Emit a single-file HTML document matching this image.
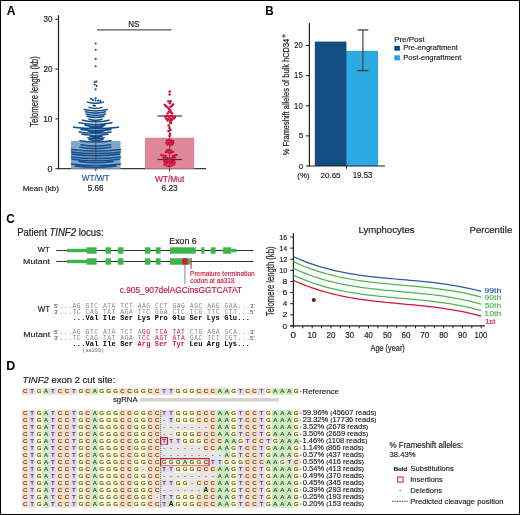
<!DOCTYPE html>
<html><head><meta charset="utf-8"><style>
html,body{margin:0;padding:0;background:#fff;}
.frame{position:relative;width:520px;height:515px;box-sizing:border-box;border:1px solid #000;overflow:hidden;}
svg{position:absolute;left:-1px;top:-1px;will-change:transform;}
svg text{font-family:"Liberation Sans",sans-serif;}
svg text.m{font-family:"Liberation Mono",monospace;}
svg text.b{font-size:6.1px;fill:#3c3c3c;text-anchor:middle;stroke:#3c3c3c;stroke-width:0.15px;}
svg text.bb{font-size:6.6px;fill:#111;text-anchor:middle;font-weight:bold;}
</style></head><body><div class="frame"><svg width="520" height="515" viewBox="0 0 520 515">
<text x="6.70" y="14.80" font-size="11.88" fill="#000" textLength="8.73" lengthAdjust="spacingAndGlyphs"><tspan font-weight="bold">A</tspan></text>
<line x1="58.5" y1="15.2" x2="58.5" y2="169.29999999999998" stroke="#231f20" stroke-width="1.2"/>
<line x1="57.9" y1="168.7" x2="206" y2="168.7" stroke="#3a3a3a" stroke-width="1.3"/>
<line x1="55.3" y1="118.89999999999999" x2="58.5" y2="118.89999999999999" stroke="#231f20" stroke-width="1"/>
<text x="43.18" y="121.80" font-size="8.70" fill="#231f20" stroke="#231f20" stroke-width="0.191" textLength="9.23" lengthAdjust="spacingAndGlyphs">10</text>
<line x1="55.3" y1="69.1" x2="58.5" y2="69.1" stroke="#231f20" stroke-width="1"/>
<text x="43.40" y="72.00" font-size="8.70" fill="#231f20" stroke="#231f20" stroke-width="0.191" textLength="9.01" lengthAdjust="spacingAndGlyphs">20</text>
<line x1="55.3" y1="19.30000000000001" x2="58.5" y2="19.30000000000001" stroke="#231f20" stroke-width="1"/>
<text x="43.48" y="22.20" font-size="8.70" fill="#231f20" stroke="#231f20" stroke-width="0.191" textLength="8.92" lengthAdjust="spacingAndGlyphs">30</text>
<line x1="55.3" y1="168.7" x2="58.5" y2="168.7" stroke="#231f20" stroke-width="1"/>
<text x="47.44" y="171.60" font-size="8.84" fill="#231f20" stroke="#231f20" stroke-width="0.194" textLength="4.98" lengthAdjust="spacingAndGlyphs">0</text>
<text x="-126.96" y="0.00" font-size="10.69" fill="#231f20" stroke="#231f20" stroke-width="0.235" textLength="70.72" lengthAdjust="spacingAndGlyphs" transform="translate(38.10,0) rotate(-90)">Telomere length (kb)</text>
<rect x="71.00" y="140.90" width="49.50" height="27.80" fill="#84a6ca"/>
<rect x="145.00" y="137.67" width="49.20" height="31.03" fill="#df8799"/>
<line x1="97" y1="29.85" x2="171.5" y2="29.85" stroke="#555" stroke-width="1.3"/>
<text x="128.26" y="27.00" font-size="8.41" fill="#231f20" stroke="#231f20" stroke-width="0.185" textLength="11.14" lengthAdjust="spacingAndGlyphs">NS</text>
<line x1="95.8" y1="168.7" x2="95.8" y2="171.2" stroke="#231f20" stroke-width="0.9"/>
<line x1="169.6" y1="168.7" x2="169.6" y2="171.2" stroke="#231f20" stroke-width="0.9"/>
<text x="81.86" y="181.20" font-size="8.70" fill="#1e5b96" stroke="#1e5b96" stroke-width="0.191" textLength="27.52" lengthAdjust="spacingAndGlyphs">WT/WT</text>
<text x="154.96" y="181.50" font-size="8.26" fill="#d0173e" stroke="#d0173e" stroke-width="0.182" textLength="29.32" lengthAdjust="spacingAndGlyphs">WT/Mut</text>
<text x="22.66" y="190.70" font-size="8.12" fill="#231f20" stroke="#231f20" stroke-width="0.179" textLength="36.24" lengthAdjust="spacingAndGlyphs">Mean (kb)</text>
<text x="87.78" y="190.80" font-size="8.41" fill="#231f20" stroke="#231f20" stroke-width="0.185" textLength="15.65" lengthAdjust="spacingAndGlyphs">5.66</text>
<text x="161.48" y="190.80" font-size="8.41" fill="#231f20" stroke="#231f20" stroke-width="0.185" textLength="16.16" lengthAdjust="spacingAndGlyphs">6.23</text>
<path d="M87.5,102.12 Q95.5,104.44 103.5,102.12 M89.0,107.37 Q95.5,109.48 102.0,107.37 M84.2,109.60 Q95.8,112.41 107.3,109.60 M85.5,111.85 Q95.5,114.45 105.5,111.85 M86.0,113.96 Q95.8,116.52 105.5,113.96 M87.0,116.20 Q95.5,118.59 104.0,116.20 M82.5,120.14 Q95.8,123.19 109.0,120.14 M79.0,122.72 Q95.5,126.23 112.0,122.72 M85.0,125.20 Q95.0,127.20 105.0,125.20 M73.5,127.15 Q96.0,130.15 118.5,127.15 M81.0,129.50 Q96.0,131.90 111.0,129.50 M79.0,132.08 Q95.0,134.56 111.0,132.08 M82.0,134.34 Q95.0,136.58 108.0,134.34 M88.0,137.64 Q96.0,139.48 104.0,137.64 M80.0,140.69 Q95.5,143.13 111.0,140.69 M81.0,144.81 Q95.8,147.19 110.5,144.81 M80.0,147.29 Q95.5,149.73 111.0,147.29 M71.5,149.51 Q96.0,152.67 120.5,149.51 M71.5,151.91 Q96.0,155.07 120.5,151.91 M72.0,154.12 Q95.8,157.22 119.5,154.12 M71.5,157.01 Q96.0,160.17 120.5,157.01 M72.0,159.22 Q95.8,162.32 119.5,159.22 M79.0,161.56 Q96.0,164.12 113.0,161.56 M71.5,164.01 Q96.0,167.17 120.5,164.01 M75.0,166.09 Q95.5,168.93 116.0,166.09 M89.0,119.17 Q95.5,121.28 102.0,119.17 M89.0,126.46 Q96.0,128.22 103.0,126.46 M88.0,131.04 Q96.0,132.88 104.0,131.04 M90.0,136.28 Q96.0,137.96 102.0,136.28 M89.0,139.46 Q96.0,141.22 103.0,139.46" fill="none" stroke="#154f8b" stroke-width="1.55" stroke-linecap="round"/>
<circle cx="95.7" cy="43.5" r="1.05" fill="#154f8b"/>
<circle cx="95.7" cy="49.7" r="1.05" fill="#154f8b"/>
<circle cx="95.7" cy="58.9" r="1.05" fill="#154f8b"/>
<circle cx="95.7" cy="66.2" r="1.05" fill="#154f8b"/>
<circle cx="94.7" cy="81.9" r="1.05" fill="#154f8b"/>
<circle cx="96.6" cy="81.5" r="1.05" fill="#154f8b"/>
<circle cx="94.7" cy="84.5" r="1.05" fill="#154f8b"/>
<circle cx="96.6" cy="85.9" r="1.05" fill="#154f8b"/>
<circle cx="95.6" cy="89.4" r="1.05" fill="#154f8b"/>
<circle cx="91.2" cy="98.9" r="1.05" fill="#154f8b"/>
<circle cx="95.5" cy="98.4" r="1.05" fill="#154f8b"/>
<circle cx="93" cy="100.1" r="1.05" fill="#154f8b"/>
<circle cx="95.5" cy="100.5" r="1.05" fill="#154f8b"/>
<circle cx="98" cy="100.6" r="1.05" fill="#154f8b"/>
<circle cx="100.3" cy="100.9" r="1.05" fill="#154f8b"/>
<circle cx="95.0" cy="105.8" r="1.05" fill="#154f8b"/>
<circle cx="93.6" cy="105.5" r="1.05" fill="#154f8b"/>
<line x1="95.8" y1="120.4" x2="95.8" y2="160.7" stroke="#2b2b2b" stroke-width="0.6"/>
<line x1="169.7" y1="116" x2="169.7" y2="168.5" stroke="#333" stroke-width="0.7"/>
<line x1="157.4" y1="116" x2="181.9" y2="116" stroke="#3a3a3a" stroke-width="1.2"/>
<line x1="157.4" y1="159.5" x2="181.9" y2="159.5" stroke="#3a3a3a" stroke-width="1.2"/>
<circle cx="169.65" cy="91.5" r="1.25" fill="#d0103a"/>
<circle cx="169.65" cy="94.4" r="1.25" fill="#d0103a"/>
<circle cx="168.3" cy="101.3" r="1.25" fill="#d0103a"/>
<circle cx="170.5" cy="101.3" r="1.25" fill="#d0103a"/>
<circle cx="169.8" cy="103.3" r="1.25" fill="#d0103a"/>
<circle cx="164.8" cy="105.1" r="1.25" fill="#d0103a"/>
<circle cx="166.2" cy="106.2" r="1.25" fill="#d0103a"/>
<circle cx="167.5" cy="107.5" r="1.25" fill="#d0103a"/>
<circle cx="173.1" cy="104.6" r="1.25" fill="#d0103a"/>
<circle cx="171.8" cy="105.8" r="1.25" fill="#d0103a"/>
<circle cx="170.5" cy="107" r="1.25" fill="#d0103a"/>
<circle cx="169" cy="109" r="1.25" fill="#d0103a"/>
<circle cx="170.5" cy="110.5" r="1.25" fill="#d0103a"/>
<circle cx="168.8" cy="111.8" r="1.25" fill="#d0103a"/>
<circle cx="167.6" cy="113.4" r="1.25" fill="#d0103a"/>
<circle cx="172.2" cy="113.6" r="1.25" fill="#d0103a"/>
<circle cx="171" cy="112.6" r="1.25" fill="#d0103a"/>
<circle cx="165" cy="116.5" r="1.25" fill="#d0103a"/>
<circle cx="167" cy="116" r="1.25" fill="#d0103a"/>
<circle cx="169" cy="116.5" r="1.25" fill="#d0103a"/>
<circle cx="171" cy="116" r="1.25" fill="#d0103a"/>
<circle cx="173" cy="116.5" r="1.25" fill="#d0103a"/>
<circle cx="175" cy="117" r="1.25" fill="#d0103a"/>
<circle cx="166" cy="118.5" r="1.25" fill="#d0103a"/>
<circle cx="168" cy="119" r="1.25" fill="#d0103a"/>
<circle cx="170" cy="118.5" r="1.25" fill="#d0103a"/>
<circle cx="172" cy="119" r="1.25" fill="#d0103a"/>
<circle cx="174" cy="118.5" r="1.25" fill="#d0103a"/>
<circle cx="167.5" cy="120.5" r="1.25" fill="#d0103a"/>
<circle cx="171.5" cy="120.5" r="1.25" fill="#d0103a"/>
<circle cx="170" cy="121.5" r="1.25" fill="#d0103a"/>
<circle cx="171" cy="123" r="1.25" fill="#d0103a"/>
<circle cx="168.5" cy="125.5" r="1.25" fill="#d0103a"/>
<circle cx="169.5" cy="128" r="1.25" fill="#d0103a"/>
<circle cx="170.5" cy="130" r="1.25" fill="#d0103a"/>
<circle cx="168.5" cy="131" r="1.25" fill="#d0103a"/>
<circle cx="170" cy="134" r="1.25" fill="#d0103a"/>
<circle cx="169.5" cy="136" r="1.25" fill="#d0103a"/>
<circle cx="167" cy="140.5" r="1.25" fill="#d0103a"/>
<circle cx="169" cy="140" r="1.25" fill="#d0103a"/>
<circle cx="171" cy="140.5" r="1.25" fill="#d0103a"/>
<circle cx="173" cy="141" r="1.25" fill="#d0103a"/>
<circle cx="166.5" cy="142.5" r="1.25" fill="#d0103a"/>
<circle cx="168.5" cy="143" r="1.25" fill="#d0103a"/>
<circle cx="171" cy="142.5" r="1.25" fill="#d0103a"/>
<circle cx="173" cy="143" r="1.25" fill="#d0103a"/>
<circle cx="167.5" cy="144.5" r="1.25" fill="#d0103a"/>
<circle cx="170" cy="145" r="1.25" fill="#d0103a"/>
<circle cx="172" cy="144.5" r="1.25" fill="#d0103a"/>
<circle cx="167" cy="150.5" r="1.25" fill="#d0103a"/>
<circle cx="169" cy="150" r="1.25" fill="#d0103a"/>
<circle cx="171" cy="150.5" r="1.25" fill="#d0103a"/>
<circle cx="166" cy="152" r="1.25" fill="#d0103a"/>
<circle cx="168.5" cy="152.5" r="1.25" fill="#d0103a"/>
<circle cx="171" cy="152.5" r="1.25" fill="#d0103a"/>
<circle cx="173" cy="152" r="1.25" fill="#d0103a"/>
<circle cx="161.5" cy="155" r="1.25" fill="#d0103a"/>
<circle cx="163.5" cy="155.5" r="1.25" fill="#d0103a"/>
<circle cx="165.5" cy="156" r="1.25" fill="#d0103a"/>
<circle cx="173" cy="156" r="1.25" fill="#d0103a"/>
<circle cx="175" cy="155.5" r="1.25" fill="#d0103a"/>
<circle cx="176.5" cy="155" r="1.25" fill="#d0103a"/>
<circle cx="163.5" cy="157.5" r="1.25" fill="#d0103a"/>
<circle cx="165.5" cy="158" r="1.25" fill="#d0103a"/>
<circle cx="167.5" cy="158" r="1.25" fill="#d0103a"/>
<circle cx="170" cy="158.5" r="1.25" fill="#d0103a"/>
<circle cx="172.5" cy="158" r="1.25" fill="#d0103a"/>
<circle cx="174.5" cy="157.5" r="1.25" fill="#d0103a"/>
<circle cx="164" cy="160.5" r="1.25" fill="#d0103a"/>
<circle cx="166" cy="161" r="1.25" fill="#d0103a"/>
<circle cx="168" cy="161.5" r="1.25" fill="#d0103a"/>
<circle cx="170" cy="161.5" r="1.25" fill="#d0103a"/>
<circle cx="172" cy="161" r="1.25" fill="#d0103a"/>
<circle cx="174" cy="160.5" r="1.25" fill="#d0103a"/>
<circle cx="165" cy="162.5" r="1.25" fill="#d0103a"/>
<circle cx="167" cy="163" r="1.25" fill="#d0103a"/>
<circle cx="169.5" cy="163.5" r="1.25" fill="#d0103a"/>
<circle cx="172" cy="163" r="1.25" fill="#d0103a"/>
<circle cx="174.5" cy="162.5" r="1.25" fill="#d0103a"/>
<circle cx="164.5" cy="164.5" r="1.25" fill="#d0103a"/>
<circle cx="166.5" cy="165.5" r="1.25" fill="#d0103a"/>
<circle cx="169" cy="166" r="1.25" fill="#d0103a"/>
<circle cx="171.5" cy="165.5" r="1.25" fill="#d0103a"/>
<circle cx="174" cy="164.5" r="1.25" fill="#d0103a"/>
<text x="265.24" y="15.00" font-size="12.17" fill="#000" textLength="8.41" lengthAdjust="spacingAndGlyphs"><tspan font-weight="bold">B</tspan></text>
<rect x="346.00" y="50.80" width="32.10" height="115.20" fill="#2eaae3"/>
<rect x="314.80" y="41.58" width="31.60" height="124.42" fill="#124f80"/>
<line x1="309.4" y1="23" x2="309.4" y2="166.6" stroke="#231f20" stroke-width="1.2"/>
<line x1="308.79999999999995" y1="166.0" x2="385" y2="166.0" stroke="#231f20" stroke-width="1.2"/>
<line x1="346.5" y1="166.0" x2="346.5" y2="168.8" stroke="#231f20" stroke-width="1"/>
<line x1="305.9" y1="166.0" x2="309.4" y2="166.0" stroke="#231f20" stroke-width="1"/>
<text x="298.68" y="168.60" font-size="7.25" fill="#231f20" stroke="#231f20" stroke-width="0.159" textLength="4.52" lengthAdjust="spacingAndGlyphs">0</text>
<line x1="305.9" y1="135.875" x2="309.4" y2="135.875" stroke="#231f20" stroke-width="1"/>
<text x="298.67" y="138.47" font-size="7.25" fill="#231f20" stroke="#231f20" stroke-width="0.159" textLength="4.57" lengthAdjust="spacingAndGlyphs">5</text>
<line x1="305.9" y1="105.75" x2="309.4" y2="105.75" stroke="#231f20" stroke-width="1"/>
<text x="294.12" y="108.55" font-size="8.70" fill="#231f20" stroke="#231f20" stroke-width="0.191" textLength="8.57" lengthAdjust="spacingAndGlyphs">10</text>
<line x1="305.9" y1="75.625" x2="309.4" y2="75.625" stroke="#231f20" stroke-width="1"/>
<text x="294.12" y="78.42" font-size="8.70" fill="#231f20" stroke="#231f20" stroke-width="0.191" textLength="8.61" lengthAdjust="spacingAndGlyphs">15</text>
<line x1="305.9" y1="45.5" x2="309.4" y2="45.5" stroke="#231f20" stroke-width="1"/>
<text x="294.32" y="48.30" font-size="8.70" fill="#231f20" stroke="#231f20" stroke-width="0.191" textLength="8.36" lengthAdjust="spacingAndGlyphs">20</text>
<line x1="362.9" y1="30" x2="362.9" y2="70.6" stroke="#444" stroke-width="1.2"/>
<line x1="357.5" y1="30" x2="368.3" y2="30" stroke="#444" stroke-width="1.3"/>
<line x1="357.5" y1="70.6" x2="368.3" y2="70.6" stroke="#333" stroke-width="1.3"/>
<text x="-155.26" y="0.00" font-size="9.44" fill="#231f20" stroke="#231f20" stroke-width="0.208" textLength="116.48" lengthAdjust="spacingAndGlyphs" transform="translate(288.90,0) rotate(-90)">% Frameshift alleles  of bulk hCD34</text>
<line x1="281.7" y1="36.0" x2="285.9" y2="36.0" stroke="#231f20" stroke-width="0.75"/>
<line x1="283.8" y1="33.9" x2="283.8" y2="38.1" stroke="#231f20" stroke-width="0.75"/>
<text x="297.33" y="178.30" font-size="7.70" fill="#231f20" stroke="#231f20" stroke-width="0.169" textLength="12.18" lengthAdjust="spacingAndGlyphs">(%)</text>
<text x="320.50" y="178.10" font-size="8.12" fill="#231f20" stroke="#231f20" stroke-width="0.179" textLength="20.04" lengthAdjust="spacingAndGlyphs">20.65</text>
<text x="352.71" y="178.10" font-size="8.41" fill="#231f20" stroke="#231f20" stroke-width="0.185" textLength="19.73" lengthAdjust="spacingAndGlyphs">19.53</text>
<text x="394.16" y="41.50" font-size="7.54" fill="#231f20" stroke="#231f20" stroke-width="0.166" textLength="30.52" lengthAdjust="spacingAndGlyphs">Pre/Post</text>
<rect x="394.30" y="45.90" width="5.60" height="4.80" fill="#0e4a80"/>
<text x="403.30" y="50.40" font-size="7.97" fill="#231f20" stroke="#231f20" stroke-width="0.175" textLength="54.45" lengthAdjust="spacingAndGlyphs">Pre-engraftment</text>
<rect x="394.30" y="55.30" width="5.60" height="5.00" fill="#29a3e0"/>
<text x="403.29" y="59.80" font-size="7.25" fill="#231f20" stroke="#231f20" stroke-width="0.159" textLength="58.05" lengthAdjust="spacingAndGlyphs">Post-engraftment</text>
<text x="6.33" y="223.00" font-size="12.03" fill="#000" textLength="8.49" lengthAdjust="spacingAndGlyphs"><tspan font-weight="bold">C</tspan></text>
<text x="17.14" y="235.80" font-size="10.00" fill="#231f20" stroke="#231f20" stroke-width="0.220" textLength="86.46" lengthAdjust="spacingAndGlyphs">Patient <tspan font-style="italic">TINF2</tspan> locus:</text>
<text x="37.66" y="252.00" font-size="7.83" fill="#231f20" stroke="#231f20" stroke-width="0.172" textLength="12.09" lengthAdjust="spacingAndGlyphs">WT</text>
<text x="23.09" y="263.70" font-size="7.97" fill="#231f20" stroke="#231f20" stroke-width="0.175" textLength="26.97" lengthAdjust="spacingAndGlyphs">Mutant</text>
<line x1="56.3" y1="250.5" x2="253.4" y2="250.5" stroke="#333" stroke-width="1"/>
<rect x="67.20" y="248.80" width="19.50" height="3.40" fill="#3ab54a"/>
<rect x="86.50" y="247.30" width="10.20" height="6.40" fill="#3ab54a"/>
<rect x="105.60" y="247.30" width="5.40" height="6.40" fill="#3ab54a"/>
<rect x="118.00" y="247.30" width="5.40" height="6.40" fill="#3ab54a"/>
<rect x="145.00" y="247.30" width="5.40" height="6.40" fill="#3ab54a"/>
<rect x="155.80" y="247.30" width="4.90" height="6.40" fill="#3ab54a"/>
<rect x="170.00" y="247.30" width="25.80" height="6.40" fill="#3ab54a"/>
<rect x="201.20" y="247.30" width="3.30" height="6.40" fill="#3ab54a"/>
<rect x="210.70" y="247.30" width="4.90" height="6.40" fill="#3ab54a"/>
<rect x="223.10" y="247.30" width="8.10" height="6.40" fill="#3ab54a"/>
<rect x="231.20" y="248.80" width="5.40" height="3.40" fill="#3ab54a"/>
<line x1="56.3" y1="261.5" x2="253.4" y2="261.5" stroke="#333" stroke-width="1"/>
<rect x="67.20" y="259.80" width="19.50" height="3.40" fill="#3ab54a"/>
<rect x="86.50" y="258.30" width="10.20" height="6.40" fill="#3ab54a"/>
<rect x="105.60" y="258.30" width="5.40" height="6.40" fill="#3ab54a"/>
<rect x="118.00" y="258.30" width="5.40" height="6.40" fill="#3ab54a"/>
<rect x="145.00" y="258.30" width="5.40" height="6.40" fill="#3ab54a"/>
<rect x="155.80" y="258.30" width="4.90" height="6.40" fill="#3ab54a"/>
<rect x="170.00" y="258.30" width="20.60" height="6.40" fill="#3ab54a"/>
<rect x="182.30" y="258.30" width="5.20" height="6.40" fill="#d2173f"/>
<text x="169.30" y="243.50" font-size="8.84" fill="#231f20" stroke="#231f20" stroke-width="0.194" textLength="27.28" lengthAdjust="spacingAndGlyphs">Exon 6</text>
<line x1="191.1" y1="258" x2="191.1" y2="268.8" stroke="#d0173e" stroke-width="1"/>
<line x1="184.9" y1="265" x2="184.9" y2="284.2" stroke="#888" stroke-width="1"/>
<text x="190.08" y="275.80" font-size="6.67" fill="#d0173e" stroke="#d0173e" stroke-width="0.147" textLength="64.57" lengthAdjust="spacingAndGlyphs">Premature termination</text>
<text x="190.34" y="283.00" font-size="6.30" fill="#d0173e" stroke="#d0173e" stroke-width="0.139" textLength="44.11" lengthAdjust="spacingAndGlyphs">codon at aa318</text>
<text x="119.67" y="293.00" font-size="8.59" fill="#d0173e" stroke="#d0173e" stroke-width="0.189" textLength="122.32" lengthAdjust="spacingAndGlyphs">c.905_907delAGCinsGGTCATAT</text>
<text x="37.66" y="312.00" font-size="8.41" fill="#231f20" stroke="#231f20" stroke-width="0.185" textLength="12.40" lengthAdjust="spacingAndGlyphs">WT</text>
<text x="23.19" y="336.70" font-size="8.12" fill="#231f20" stroke="#231f20" stroke-width="0.179" textLength="26.97" lengthAdjust="spacingAndGlyphs">Mutant</text>
<text x="53.9" y="308.10" font-size="6.1" fill="#444">5'</text>
<text x="53.9" y="313.70" font-size="6.1" fill="#444">3'</text>
<text class="m" x="59.5" y="308.10" font-size="6.3" fill="#88898b" textLength="190.52" lengthAdjust="spacing" xml:space="preserve">...AG GTC ATA TCT AAG CCT GAG AGC AAG GAA...</text>
<text class="m" x="59.5" y="313.70" font-size="6.3" fill="#88898b" textLength="190.52" lengthAdjust="spacing" xml:space="preserve">...TC CAG TAT AGA TTC GGA CTC TCG TTC CTT...</text>
<text x="250.0" y="308.10" font-size="6.1" fill="#444">3'</text>
<text x="250.0" y="313.70" font-size="6.1" fill="#444">5'</text>
<text class="m" x="59.5" y="319.90" font-size="7.0" fill="#000" font-weight="bold" textLength="190.52" lengthAdjust="spacing" xml:space="preserve">   ...Val Ile Ser Lys Pro Glu Ser Lys Glu...</text>
<text x="53.9" y="333.90" font-size="6.1" fill="#444">5'</text>
<text x="53.9" y="339.50" font-size="6.1" fill="#444">3'</text>
<text class="m" x="59.5" y="333.90" font-size="6.3" fill="#88898b" textLength="190.52" lengthAdjust="spacing" xml:space="preserve">...AG GTC ATA TCT A<tspan fill="#d0173e">GG TCA TAT</tspan> CTG AGA GCA...</text>
<text class="m" x="59.5" y="339.50" font-size="6.3" fill="#88898b" textLength="190.52" lengthAdjust="spacing" xml:space="preserve">...TC CAG TAT AGA T<tspan fill="#d0173e">CC AGT ATA</tspan> GAC TCT CGT...</text>
<text x="250.0" y="333.90" font-size="6.1" fill="#444">3'</text>
<text x="250.0" y="339.50" font-size="6.1" fill="#444">5'</text>
<text class="m" x="59.5" y="346.40" font-size="7.0" fill="#000" font-weight="bold" textLength="190.52" lengthAdjust="spacing" xml:space="preserve">   ...Val Ile Ser <tspan fill="#d0173e">Arg Ser Tyr</tspan> Leu Arg Lys...</text>
<text class="m" x="82.3" y="351.5" font-size="6.0" fill="#6d6e71" textLength="21.9" lengthAdjust="spacingAndGlyphs">(aa299)</text>
<line x1="293.4" y1="233.1" x2="293.4" y2="326.5" stroke="#231f20" stroke-width="1.2"/>
<line x1="290.3" y1="325.9" x2="485.0" y2="325.9" stroke="#231f20" stroke-width="1.2"/>
<line x1="290.2" y1="325.9" x2="293.4" y2="325.9" stroke="#231f20" stroke-width="1"/>
<text x="282.56" y="328.50" font-size="7.68" fill="#231f20" stroke="#231f20" stroke-width="0.169" textLength="4.75" lengthAdjust="spacingAndGlyphs">0</text>
<line x1="290.2" y1="314.78749999999997" x2="293.4" y2="314.78749999999997" stroke="#231f20" stroke-width="1"/>
<text x="282.45" y="317.39" font-size="7.68" fill="#231f20" stroke="#231f20" stroke-width="0.169" textLength="5.01" lengthAdjust="spacingAndGlyphs">2</text>
<line x1="290.2" y1="303.67499999999995" x2="293.4" y2="303.67499999999995" stroke="#231f20" stroke-width="1"/>
<text x="282.74" y="306.27" font-size="7.68" fill="#231f20" stroke="#231f20" stroke-width="0.169" textLength="4.52" lengthAdjust="spacingAndGlyphs">4</text>
<line x1="290.2" y1="292.5625" x2="293.4" y2="292.5625" stroke="#231f20" stroke-width="1"/>
<text x="282.46" y="295.16" font-size="7.68" fill="#231f20" stroke="#231f20" stroke-width="0.169" textLength="4.90" lengthAdjust="spacingAndGlyphs">6</text>
<line x1="290.2" y1="281.45" x2="293.4" y2="281.45" stroke="#231f20" stroke-width="1"/>
<text x="282.51" y="284.05" font-size="7.68" fill="#231f20" stroke="#231f20" stroke-width="0.169" textLength="4.85" lengthAdjust="spacingAndGlyphs">8</text>
<line x1="290.2" y1="270.3375" x2="293.4" y2="270.3375" stroke="#231f20" stroke-width="1"/>
<text x="279.16" y="272.94" font-size="7.68" fill="#231f20" stroke="#231f20" stroke-width="0.169" textLength="8.01" lengthAdjust="spacingAndGlyphs">10</text>
<line x1="290.2" y1="259.225" x2="293.4" y2="259.225" stroke="#231f20" stroke-width="1"/>
<text x="279.15" y="261.83" font-size="7.68" fill="#231f20" stroke="#231f20" stroke-width="0.169" textLength="8.13" lengthAdjust="spacingAndGlyphs">12</text>
<line x1="290.2" y1="248.1125" x2="293.4" y2="248.1125" stroke="#231f20" stroke-width="1"/>
<text x="279.16" y="250.71" font-size="7.68" fill="#231f20" stroke="#231f20" stroke-width="0.169" textLength="7.97" lengthAdjust="spacingAndGlyphs">14</text>
<line x1="290.2" y1="237.0" x2="293.4" y2="237.0" stroke="#231f20" stroke-width="1"/>
<text x="279.16" y="239.60" font-size="7.68" fill="#231f20" stroke="#231f20" stroke-width="0.169" textLength="8.05" lengthAdjust="spacingAndGlyphs">16</text>
<line x1="293.4" y1="325.9" x2="293.4" y2="328.29999999999995" stroke="#231f20" stroke-width="1"/>
<text x="290.60" y="338.30" font-size="8.55" fill="#231f20" stroke="#231f20" stroke-width="0.188" textLength="5.56" lengthAdjust="spacingAndGlyphs">0</text>
<line x1="302.78999999999996" y1="325.9" x2="302.78999999999996" y2="328.29999999999995" stroke="#231f20" stroke-width="1"/>
<line x1="312.17999999999995" y1="325.9" x2="312.17999999999995" y2="328.29999999999995" stroke="#231f20" stroke-width="1"/>
<text x="307.46" y="338.30" font-size="8.55" fill="#231f20" stroke="#231f20" stroke-width="0.188" textLength="9.12" lengthAdjust="spacingAndGlyphs">10</text>
<line x1="321.57" y1="325.9" x2="321.57" y2="328.29999999999995" stroke="#231f20" stroke-width="1"/>
<line x1="330.96" y1="325.9" x2="330.96" y2="328.29999999999995" stroke="#231f20" stroke-width="1"/>
<text x="326.46" y="338.30" font-size="8.55" fill="#231f20" stroke="#231f20" stroke-width="0.188" textLength="8.90" lengthAdjust="spacingAndGlyphs">20</text>
<line x1="340.34999999999997" y1="325.9" x2="340.34999999999997" y2="328.29999999999995" stroke="#231f20" stroke-width="1"/>
<line x1="349.74" y1="325.9" x2="349.74" y2="328.29999999999995" stroke="#231f20" stroke-width="1"/>
<text x="345.32" y="338.30" font-size="8.55" fill="#231f20" stroke="#231f20" stroke-width="0.188" textLength="8.81" lengthAdjust="spacingAndGlyphs">30</text>
<line x1="359.13" y1="325.9" x2="359.13" y2="328.29999999999995" stroke="#231f20" stroke-width="1"/>
<line x1="368.52" y1="325.9" x2="368.52" y2="328.29999999999995" stroke="#231f20" stroke-width="1"/>
<text x="364.26" y="338.30" font-size="8.55" fill="#231f20" stroke="#231f20" stroke-width="0.188" textLength="8.65" lengthAdjust="spacingAndGlyphs">40</text>
<line x1="377.90999999999997" y1="325.9" x2="377.90999999999997" y2="328.29999999999995" stroke="#231f20" stroke-width="1"/>
<line x1="387.29999999999995" y1="325.9" x2="387.29999999999995" y2="328.29999999999995" stroke="#231f20" stroke-width="1"/>
<text x="382.88" y="338.30" font-size="8.55" fill="#231f20" stroke="#231f20" stroke-width="0.188" textLength="8.81" lengthAdjust="spacingAndGlyphs">50</text>
<line x1="396.69" y1="325.9" x2="396.69" y2="328.29999999999995" stroke="#231f20" stroke-width="1"/>
<line x1="406.08" y1="325.9" x2="406.08" y2="328.29999999999995" stroke="#231f20" stroke-width="1"/>
<text x="401.58" y="338.30" font-size="8.55" fill="#231f20" stroke="#231f20" stroke-width="0.188" textLength="8.90" lengthAdjust="spacingAndGlyphs">60</text>
<line x1="415.46999999999997" y1="325.9" x2="415.46999999999997" y2="328.29999999999995" stroke="#231f20" stroke-width="1"/>
<line x1="424.86" y1="325.9" x2="424.86" y2="328.29999999999995" stroke="#231f20" stroke-width="1"/>
<text x="420.36" y="338.30" font-size="8.55" fill="#231f20" stroke="#231f20" stroke-width="0.188" textLength="8.90" lengthAdjust="spacingAndGlyphs">70</text>
<line x1="434.25" y1="325.9" x2="434.25" y2="328.29999999999995" stroke="#231f20" stroke-width="1"/>
<line x1="443.64" y1="325.9" x2="443.64" y2="328.29999999999995" stroke="#231f20" stroke-width="1"/>
<text x="439.18" y="338.30" font-size="8.55" fill="#231f20" stroke="#231f20" stroke-width="0.188" textLength="8.86" lengthAdjust="spacingAndGlyphs">80</text>
<line x1="453.03" y1="325.9" x2="453.03" y2="328.29999999999995" stroke="#231f20" stroke-width="1"/>
<line x1="462.41999999999996" y1="325.9" x2="462.41999999999996" y2="328.29999999999995" stroke="#231f20" stroke-width="1"/>
<text x="457.96" y="338.30" font-size="8.55" fill="#231f20" stroke="#231f20" stroke-width="0.188" textLength="8.86" lengthAdjust="spacingAndGlyphs">90</text>
<line x1="471.81" y1="325.9" x2="471.81" y2="328.29999999999995" stroke="#231f20" stroke-width="1"/>
<line x1="481.2" y1="325.9" x2="481.2" y2="328.29999999999995" stroke="#231f20" stroke-width="1"/>
<text x="474.52" y="338.30" font-size="8.55" fill="#231f20" stroke="#231f20" stroke-width="0.188" textLength="12.88" lengthAdjust="spacingAndGlyphs">100</text>
<text x="370.50" y="351.00" font-size="8.84" fill="#231f20" stroke="#231f20" stroke-width="0.194" textLength="34.27" lengthAdjust="spacingAndGlyphs">Age (year)</text>
<text x="-316.25" y="0.00" font-size="10.14" fill="#231f20" stroke="#231f20" stroke-width="0.223" textLength="69.72" lengthAdjust="spacingAndGlyphs" transform="translate(273.60,0) rotate(-90)">Telomere length (kb)</text>
<text x="358.43" y="232.50" font-size="8.99" fill="#231f20" stroke="#231f20" stroke-width="0.198" textLength="56.20" lengthAdjust="spacingAndGlyphs">Lymphocytes</text>
<text x="469.53" y="232.60" font-size="9.28" fill="#231f20" stroke="#231f20" stroke-width="0.204" textLength="42.72" lengthAdjust="spacingAndGlyphs">Percentile</text>
<path d="M293.40,256.61 L297.16,258.29 L300.91,259.89 L304.67,261.39 L308.42,262.81 L312.18,264.14 L315.94,265.39 L319.69,266.57 L323.45,267.67 L327.20,268.70 L330.96,269.66 L334.72,270.56 L338.47,271.40 L342.23,272.18 L345.98,272.91 L349.74,273.59 L353.50,274.22 L357.25,274.81 L361.01,275.35 L364.76,275.86 L368.52,276.34 L372.28,276.78 L376.03,277.20 L379.79,277.59 L383.54,277.97 L387.30,278.32 L391.06,278.67 L394.81,279.00 L398.57,279.32 L402.32,279.65 L406.08,279.97 L409.84,280.29 L413.59,280.62 L417.35,280.96 L421.10,281.32 L424.86,281.69 L428.62,282.08 L432.37,282.49 L436.13,282.93 L439.88,283.40 L443.64,283.90 L447.40,284.44 L451.15,285.02 L454.91,285.64 L458.66,286.30 L462.42,287.02 L466.18,287.79 L469.93,288.62 L473.69,289.51 L477.44,290.46 L481.20,291.47" fill="none" stroke="#2a5d9c" stroke-width="1.25"/>
<path d="M293.40,261.61 L297.16,263.33 L300.91,264.97 L304.67,266.50 L308.42,267.95 L312.18,269.32 L315.94,270.60 L319.69,271.80 L323.45,272.93 L327.20,273.99 L330.96,274.97 L334.72,275.90 L338.47,276.76 L342.23,277.56 L345.98,278.31 L349.74,279.00 L353.50,279.65 L357.25,280.25 L361.01,280.81 L364.76,281.34 L368.52,281.83 L372.28,282.28 L376.03,282.71 L379.79,283.12 L383.54,283.50 L387.30,283.87 L391.06,284.22 L394.81,284.56 L398.57,284.89 L402.32,285.22 L406.08,285.55 L409.84,285.88 L413.59,286.22 L417.35,286.56 L421.10,286.92 L424.86,287.29 L428.62,287.69 L432.37,288.11 L436.13,288.55 L439.88,289.02 L443.64,289.53 L447.40,290.07 L451.15,290.65 L454.91,291.28 L458.66,291.95 L462.42,292.67 L466.18,293.44 L469.93,294.28 L473.69,295.17 L477.44,296.12 L481.20,297.15" fill="none" stroke="#4ab84c" stroke-width="1.25"/>
<path d="M293.40,268.31 L297.16,270.03 L300.91,271.65 L304.67,273.17 L308.42,274.61 L312.18,275.97 L315.94,277.24 L319.69,278.43 L323.45,279.55 L327.20,280.59 L330.96,281.57 L334.72,282.49 L338.47,283.34 L342.23,284.13 L345.98,284.87 L349.74,285.56 L353.50,286.20 L357.25,286.80 L361.01,287.35 L364.76,287.87 L368.52,288.35 L372.28,288.81 L376.03,289.24 L379.79,289.64 L383.54,290.02 L387.30,290.39 L391.06,290.74 L394.81,291.09 L398.57,291.43 L402.32,291.76 L406.08,292.10 L409.84,292.44 L413.59,292.78 L417.35,293.14 L421.10,293.52 L424.86,293.91 L428.62,294.32 L432.37,294.75 L436.13,295.22 L439.88,295.71 L443.64,296.24 L447.40,296.81 L451.15,297.42 L454.91,298.08 L458.66,298.79 L462.42,299.54 L466.18,300.36 L469.93,301.23 L473.69,302.16 L477.44,303.16 L481.20,304.23" fill="none" stroke="#4ab84c" stroke-width="1.25"/>
<path d="M293.40,275.10 L297.16,276.81 L300.91,278.42 L304.67,279.94 L308.42,281.37 L312.18,282.72 L315.94,283.98 L319.69,285.17 L323.45,286.28 L327.20,287.32 L330.96,288.29 L334.72,289.20 L338.47,290.04 L342.23,290.83 L345.98,291.57 L349.74,292.25 L353.50,292.89 L357.25,293.48 L361.01,294.03 L364.76,294.55 L368.52,295.03 L372.28,295.48 L376.03,295.90 L379.79,296.30 L383.54,296.68 L387.30,297.04 L391.06,297.39 L394.81,297.73 L398.57,298.07 L402.32,298.40 L406.08,298.73 L409.84,299.06 L413.59,299.40 L417.35,299.75 L421.10,300.12 L424.86,300.50 L428.62,300.90 L432.37,301.33 L436.13,301.79 L439.88,302.27 L443.64,302.79 L447.40,303.35 L451.15,303.95 L454.91,304.59 L458.66,305.28 L462.42,306.03 L466.18,306.83 L469.93,307.68 L473.69,308.60 L477.44,309.58 L481.20,310.64" fill="none" stroke="#4ab84c" stroke-width="1.25"/>
<path d="M293.40,280.29 L297.16,281.98 L300.91,283.59 L304.67,285.10 L308.42,286.53 L312.18,287.87 L315.94,289.14 L319.69,290.33 L323.45,291.44 L327.20,292.49 L330.96,293.47 L334.72,294.39 L338.47,295.25 L342.23,296.05 L345.98,296.80 L349.74,297.50 L353.50,298.16 L357.25,298.77 L361.01,299.34 L364.76,299.88 L368.52,300.38 L372.28,300.85 L376.03,301.29 L379.79,301.71 L383.54,302.12 L387.30,302.50 L391.06,302.87 L394.81,303.23 L398.57,303.58 L402.32,303.93 L406.08,304.28 L409.84,304.63 L413.59,304.99 L417.35,305.36 L421.10,305.74 L424.86,306.13 L428.62,306.55 L432.37,306.98 L436.13,307.45 L439.88,307.94 L443.64,308.46 L447.40,309.02 L451.15,309.62 L454.91,310.26 L458.66,310.94 L462.42,311.68 L466.18,312.46 L469.93,313.31 L473.69,314.20 L477.44,315.17 L481.20,316.19" fill="none" stroke="#d2143c" stroke-width="1.25"/>
<circle cx="313.8" cy="300" r="2.1" fill="#5b2c0e"/>
<text x="484.62" y="292.70" font-size="7.64" fill="#2a5d9c" stroke="#2a5d9c" stroke-width="0.168" textLength="16.55" lengthAdjust="spacingAndGlyphs">99th</text>
<text x="484.62" y="300.20" font-size="8.06" fill="#4ab84c" stroke="#4ab84c" stroke-width="0.177" textLength="16.55" lengthAdjust="spacingAndGlyphs">90th</text>
<text x="484.66" y="307.90" font-size="8.06" fill="#4ab84c" stroke="#4ab84c" stroke-width="0.177" textLength="16.50" lengthAdjust="spacingAndGlyphs">50th</text>
<text x="484.35" y="316.00" font-size="7.92" fill="#4ab84c" stroke="#4ab84c" stroke-width="0.174" textLength="16.82" lengthAdjust="spacingAndGlyphs">10th</text>
<text x="485.13" y="324.00" font-size="8.06" fill="#d2143c" stroke="#d2143c" stroke-width="0.177" textLength="10.14" lengthAdjust="spacingAndGlyphs">1st</text>
<text x="6.39" y="369.80" font-size="12.03" fill="#000" textLength="9.04" lengthAdjust="spacingAndGlyphs"><tspan font-weight="bold">D</tspan></text>
<text x="22.45" y="382.50" font-size="9.71" fill="#231f20" stroke="#231f20" stroke-width="0.214" textLength="92.83" lengthAdjust="spacingAndGlyphs"><tspan font-style="italic">TINF2</tspan> exon 2 cut site:</text>
<rect x="21.70" y="388.10" width="7.00" height="6.75" fill="#fcdcc0"/>
<rect x="28.65" y="388.10" width="7.00" height="6.75" fill="#e4d9ef"/>
<rect x="35.60" y="388.10" width="7.00" height="6.75" fill="#fdfccd"/>
<rect x="42.55" y="388.10" width="7.00" height="6.75" fill="#c8ecbe"/>
<rect x="49.50" y="388.10" width="7.00" height="6.75" fill="#e4d9ef"/>
<rect x="56.45" y="388.10" width="13.95" height="6.75" fill="#fcdcc0"/>
<rect x="70.35" y="388.10" width="7.00" height="6.75" fill="#e4d9ef"/>
<rect x="77.30" y="388.10" width="7.00" height="6.75" fill="#fdfccd"/>
<rect x="84.25" y="388.10" width="7.00" height="6.75" fill="#fcdcc0"/>
<rect x="91.20" y="388.10" width="7.00" height="6.75" fill="#c8ecbe"/>
<rect x="98.15" y="388.10" width="20.90" height="6.75" fill="#fdfccd"/>
<rect x="119.00" y="388.10" width="13.95" height="6.75" fill="#fcdcc0"/>
<rect x="132.90" y="388.10" width="13.95" height="6.75" fill="#fdfccd"/>
<rect x="146.80" y="388.10" width="13.95" height="6.75" fill="#fcdcc0"/>
<rect x="160.70" y="388.10" width="13.95" height="6.75" fill="#e4d9ef"/>
<rect x="174.60" y="388.10" width="20.90" height="6.75" fill="#fdfccd"/>
<rect x="195.45" y="388.10" width="20.90" height="6.75" fill="#fcdcc0"/>
<rect x="216.30" y="388.10" width="13.95" height="6.75" fill="#c8ecbe"/>
<rect x="230.20" y="388.10" width="7.00" height="6.75" fill="#fdfccd"/>
<rect x="237.15" y="388.10" width="7.00" height="6.75" fill="#e4d9ef"/>
<rect x="244.10" y="388.10" width="13.95" height="6.75" fill="#fcdcc0"/>
<rect x="258.00" y="388.10" width="7.00" height="6.75" fill="#e4d9ef"/>
<rect x="264.95" y="388.10" width="7.00" height="6.75" fill="#fdfccd"/>
<rect x="271.90" y="388.10" width="20.90" height="6.75" fill="#c8ecbe"/>
<rect x="292.75" y="388.10" width="7.00" height="6.75" fill="#fdfccd"/>
<text class="b" x="25.18 32.12 39.08 46.02 52.98 59.93 66.88 73.82 80.77 87.72 94.67 101.62 108.58 115.53 122.47 129.43 136.38 143.32 150.28 157.22 164.17 171.12 178.07 185.02 191.97 198.92 205.88 212.82 219.77 226.72 233.67 240.62 247.57 254.52 261.48 268.43 275.38 282.33 289.28 296.23" y="393.45">CTGATCCTGCAGGGCCGGCCTTGGGCCCAAGTCCTGAAAG</text>
<rect x="299.90" y="391.20" width="1.60" height="0.90" fill="#444"/>
<text x="302.57" y="393.70" font-size="7.83" fill="#231f20" stroke="#231f20" stroke-width="0.172" textLength="36.27" lengthAdjust="spacingAndGlyphs">Reference</text>
<text x="112.97" y="401.60" font-size="7.25" fill="#231f20" stroke="#231f20" stroke-width="0.159" textLength="24.65" lengthAdjust="spacingAndGlyphs">sgRNA</text>
<rect x="139.90" y="398.00" width="138.90" height="3.50" fill="#d6d4cd"/>
<rect x="21.70" y="409.80" width="7.00" height="7.04" fill="#fcdcc0"/>
<rect x="28.65" y="409.80" width="7.00" height="7.04" fill="#e4d9ef"/>
<rect x="35.60" y="409.80" width="7.00" height="7.04" fill="#fdfccd"/>
<rect x="42.55" y="409.80" width="7.00" height="7.04" fill="#c8ecbe"/>
<rect x="49.50" y="409.80" width="7.00" height="7.04" fill="#e4d9ef"/>
<rect x="56.45" y="409.80" width="13.95" height="7.04" fill="#fcdcc0"/>
<rect x="70.35" y="409.80" width="7.00" height="7.04" fill="#e4d9ef"/>
<rect x="77.30" y="409.80" width="7.00" height="7.04" fill="#fdfccd"/>
<rect x="84.25" y="409.80" width="7.00" height="7.04" fill="#fcdcc0"/>
<rect x="91.20" y="409.80" width="7.00" height="7.04" fill="#c8ecbe"/>
<rect x="98.15" y="409.80" width="20.90" height="7.04" fill="#fdfccd"/>
<rect x="119.00" y="409.80" width="13.95" height="7.04" fill="#fcdcc0"/>
<rect x="132.90" y="409.80" width="13.95" height="7.04" fill="#fdfccd"/>
<rect x="146.80" y="409.80" width="13.95" height="7.04" fill="#fcdcc0"/>
<rect x="160.70" y="409.80" width="13.95" height="7.04" fill="#e4d9ef"/>
<rect x="174.60" y="409.80" width="20.90" height="7.04" fill="#fdfccd"/>
<rect x="195.45" y="409.80" width="20.90" height="7.04" fill="#fcdcc0"/>
<rect x="216.30" y="409.80" width="13.95" height="7.04" fill="#c8ecbe"/>
<rect x="230.20" y="409.80" width="7.00" height="7.04" fill="#fdfccd"/>
<rect x="237.15" y="409.80" width="7.00" height="7.04" fill="#e4d9ef"/>
<rect x="244.10" y="409.80" width="13.95" height="7.04" fill="#fcdcc0"/>
<rect x="258.00" y="409.80" width="7.00" height="7.04" fill="#e4d9ef"/>
<rect x="264.95" y="409.80" width="7.00" height="7.04" fill="#fdfccd"/>
<rect x="271.90" y="409.80" width="20.90" height="7.04" fill="#c8ecbe"/>
<rect x="292.75" y="409.80" width="7.00" height="7.04" fill="#fdfccd"/>
<text class="b" x="25.18 32.12 39.08 46.02 52.98 59.93 66.88 73.82 80.77 87.72 94.67 101.62 108.58 115.53 122.47 129.43 136.38 143.32 150.28 157.22 164.17 171.12 178.07 185.02 191.97 198.92 205.88 212.82 219.77 226.72 233.67 240.62 247.57 254.52 261.48 268.43 275.38 282.33 289.28 296.23" y="415.30">CTGATCCTGCAGGGCCGGCCTTGGGCCCAAGTCCTGAAAG</text>
<rect x="21.70" y="416.79" width="7.00" height="7.04" fill="#fcdcc0"/>
<rect x="28.65" y="416.79" width="7.00" height="7.04" fill="#e4d9ef"/>
<rect x="35.60" y="416.79" width="7.00" height="7.04" fill="#fdfccd"/>
<rect x="42.55" y="416.79" width="7.00" height="7.04" fill="#c8ecbe"/>
<rect x="49.50" y="416.79" width="7.00" height="7.04" fill="#e4d9ef"/>
<rect x="56.45" y="416.79" width="13.95" height="7.04" fill="#fcdcc0"/>
<rect x="70.35" y="416.79" width="7.00" height="7.04" fill="#e4d9ef"/>
<rect x="77.30" y="416.79" width="7.00" height="7.04" fill="#fdfccd"/>
<rect x="84.25" y="416.79" width="7.00" height="7.04" fill="#fcdcc0"/>
<rect x="91.20" y="416.79" width="7.00" height="7.04" fill="#c8ecbe"/>
<rect x="98.15" y="416.79" width="20.90" height="7.04" fill="#fdfccd"/>
<rect x="119.00" y="416.79" width="13.95" height="7.04" fill="#fcdcc0"/>
<rect x="132.90" y="416.79" width="13.95" height="7.04" fill="#fdfccd"/>
<rect x="146.80" y="416.79" width="13.95" height="7.04" fill="#fcdcc0"/>
<rect x="160.70" y="416.79" width="7.00" height="7.04" fill="#e6e6e6"/>
<rect x="167.65" y="416.79" width="7.00" height="7.04" fill="#e4d9ef"/>
<rect x="174.60" y="416.79" width="20.90" height="7.04" fill="#fdfccd"/>
<rect x="195.45" y="416.79" width="20.90" height="7.04" fill="#fcdcc0"/>
<rect x="216.30" y="416.79" width="13.95" height="7.04" fill="#c8ecbe"/>
<rect x="230.20" y="416.79" width="7.00" height="7.04" fill="#fdfccd"/>
<rect x="237.15" y="416.79" width="7.00" height="7.04" fill="#e4d9ef"/>
<rect x="244.10" y="416.79" width="13.95" height="7.04" fill="#fcdcc0"/>
<rect x="258.00" y="416.79" width="7.00" height="7.04" fill="#e4d9ef"/>
<rect x="264.95" y="416.79" width="7.00" height="7.04" fill="#fdfccd"/>
<rect x="271.90" y="416.79" width="20.90" height="7.04" fill="#c8ecbe"/>
<rect x="292.75" y="416.79" width="7.00" height="7.04" fill="#fdfccd"/>
<text class="b" x="25.18 32.12 39.08 46.02 52.98 59.93 66.88 73.82 80.77 87.72 94.67 101.62 108.58 115.53 122.47 129.43 136.38 143.32 150.28 157.22 164.17 171.12 178.07 185.02 191.97 198.92 205.88 212.82 219.77 226.72 233.67 240.62 247.57 254.52 261.48 268.43 275.38 282.33 289.28 296.23" y="422.29">CTGATCCTGCAGGGCCGGCC-TGGGCCCAAGTCCTGAAAG</text>
<rect x="21.70" y="423.78" width="7.00" height="7.04" fill="#fcdcc0"/>
<rect x="28.65" y="423.78" width="7.00" height="7.04" fill="#e4d9ef"/>
<rect x="35.60" y="423.78" width="7.00" height="7.04" fill="#fdfccd"/>
<rect x="42.55" y="423.78" width="7.00" height="7.04" fill="#c8ecbe"/>
<rect x="49.50" y="423.78" width="7.00" height="7.04" fill="#e4d9ef"/>
<rect x="56.45" y="423.78" width="13.95" height="7.04" fill="#fcdcc0"/>
<rect x="70.35" y="423.78" width="7.00" height="7.04" fill="#e4d9ef"/>
<rect x="77.30" y="423.78" width="7.00" height="7.04" fill="#fdfccd"/>
<rect x="84.25" y="423.78" width="7.00" height="7.04" fill="#fcdcc0"/>
<rect x="91.20" y="423.78" width="7.00" height="7.04" fill="#c8ecbe"/>
<rect x="98.15" y="423.78" width="20.90" height="7.04" fill="#fdfccd"/>
<rect x="119.00" y="423.78" width="13.95" height="7.04" fill="#fcdcc0"/>
<rect x="132.90" y="423.78" width="13.95" height="7.04" fill="#fdfccd"/>
<rect x="146.80" y="423.78" width="13.95" height="7.04" fill="#fcdcc0"/>
<rect x="160.70" y="423.78" width="48.70" height="7.04" fill="#e6e6e6"/>
<rect x="209.35" y="423.78" width="7.00" height="7.04" fill="#fcdcc0"/>
<rect x="216.30" y="423.78" width="13.95" height="7.04" fill="#c8ecbe"/>
<rect x="230.20" y="423.78" width="7.00" height="7.04" fill="#fdfccd"/>
<rect x="237.15" y="423.78" width="7.00" height="7.04" fill="#e4d9ef"/>
<rect x="244.10" y="423.78" width="13.95" height="7.04" fill="#fcdcc0"/>
<rect x="258.00" y="423.78" width="7.00" height="7.04" fill="#e4d9ef"/>
<rect x="264.95" y="423.78" width="7.00" height="7.04" fill="#fdfccd"/>
<rect x="271.90" y="423.78" width="20.90" height="7.04" fill="#c8ecbe"/>
<rect x="292.75" y="423.78" width="7.00" height="7.04" fill="#fdfccd"/>
<text class="b" x="25.18 32.12 39.08 46.02 52.98 59.93 66.88 73.82 80.77 87.72 94.67 101.62 108.58 115.53 122.47 129.43 136.38 143.32 150.28 157.22 164.17 171.12 178.07 185.02 191.97 198.92 205.88 212.82 219.77 226.72 233.67 240.62 247.57 254.52 261.48 268.43 275.38 282.33 289.28 296.23" y="429.28">CTGATCCTGCAGGGCCGGCC-------CAAGTCCTGAAAG</text>
<rect x="21.70" y="430.77" width="7.00" height="7.04" fill="#fcdcc0"/>
<rect x="28.65" y="430.77" width="7.00" height="7.04" fill="#e4d9ef"/>
<rect x="35.60" y="430.77" width="7.00" height="7.04" fill="#fdfccd"/>
<rect x="42.55" y="430.77" width="7.00" height="7.04" fill="#c8ecbe"/>
<rect x="49.50" y="430.77" width="7.00" height="7.04" fill="#e4d9ef"/>
<rect x="56.45" y="430.77" width="13.95" height="7.04" fill="#fcdcc0"/>
<rect x="70.35" y="430.77" width="7.00" height="7.04" fill="#e4d9ef"/>
<rect x="77.30" y="430.77" width="7.00" height="7.04" fill="#fdfccd"/>
<rect x="84.25" y="430.77" width="7.00" height="7.04" fill="#fcdcc0"/>
<rect x="91.20" y="430.77" width="7.00" height="7.04" fill="#c8ecbe"/>
<rect x="98.15" y="430.77" width="20.90" height="7.04" fill="#fdfccd"/>
<rect x="119.00" y="430.77" width="13.95" height="7.04" fill="#fcdcc0"/>
<rect x="132.90" y="430.77" width="13.95" height="7.04" fill="#fdfccd"/>
<rect x="146.80" y="430.77" width="13.95" height="7.04" fill="#fcdcc0"/>
<rect x="160.70" y="430.77" width="13.95" height="7.04" fill="#e6e6e6"/>
<rect x="174.60" y="430.77" width="20.90" height="7.04" fill="#fdfccd"/>
<rect x="195.45" y="430.77" width="20.90" height="7.04" fill="#fcdcc0"/>
<rect x="216.30" y="430.77" width="13.95" height="7.04" fill="#c8ecbe"/>
<rect x="230.20" y="430.77" width="7.00" height="7.04" fill="#fdfccd"/>
<rect x="237.15" y="430.77" width="7.00" height="7.04" fill="#e4d9ef"/>
<rect x="244.10" y="430.77" width="13.95" height="7.04" fill="#fcdcc0"/>
<rect x="258.00" y="430.77" width="7.00" height="7.04" fill="#e4d9ef"/>
<rect x="264.95" y="430.77" width="7.00" height="7.04" fill="#fdfccd"/>
<rect x="271.90" y="430.77" width="20.90" height="7.04" fill="#c8ecbe"/>
<rect x="292.75" y="430.77" width="7.00" height="7.04" fill="#fdfccd"/>
<text class="b" x="25.18 32.12 39.08 46.02 52.98 59.93 66.88 73.82 80.77 87.72 94.67 101.62 108.58 115.53 122.47 129.43 136.38 143.32 150.28 157.22 164.17 171.12 178.07 185.02 191.97 198.92 205.88 212.82 219.77 226.72 233.67 240.62 247.57 254.52 261.48 268.43 275.38 282.33 289.28 296.23" y="436.26">CTGATCCTGCAGGGCCGGCC--GGGCCCAAGTCCTGAAAG</text>
<rect x="21.70" y="437.76" width="7.00" height="7.04" fill="#fcdcc0"/>
<rect x="28.65" y="437.76" width="7.00" height="7.04" fill="#e4d9ef"/>
<rect x="35.60" y="437.76" width="7.00" height="7.04" fill="#fdfccd"/>
<rect x="42.55" y="437.76" width="7.00" height="7.04" fill="#c8ecbe"/>
<rect x="49.50" y="437.76" width="7.00" height="7.04" fill="#e4d9ef"/>
<rect x="56.45" y="437.76" width="13.95" height="7.04" fill="#fcdcc0"/>
<rect x="70.35" y="437.76" width="7.00" height="7.04" fill="#e4d9ef"/>
<rect x="77.30" y="437.76" width="7.00" height="7.04" fill="#fdfccd"/>
<rect x="84.25" y="437.76" width="7.00" height="7.04" fill="#fcdcc0"/>
<rect x="91.20" y="437.76" width="7.00" height="7.04" fill="#c8ecbe"/>
<rect x="98.15" y="437.76" width="20.90" height="7.04" fill="#fdfccd"/>
<rect x="119.00" y="437.76" width="13.95" height="7.04" fill="#fcdcc0"/>
<rect x="132.90" y="437.76" width="13.95" height="7.04" fill="#fdfccd"/>
<rect x="146.80" y="437.76" width="13.95" height="7.04" fill="#fcdcc0"/>
<rect x="160.70" y="437.76" width="20.90" height="7.04" fill="#e4d9ef"/>
<rect x="181.55" y="437.76" width="20.90" height="7.04" fill="#fdfccd"/>
<rect x="202.40" y="437.76" width="20.90" height="7.04" fill="#fcdcc0"/>
<rect x="223.25" y="437.76" width="13.95" height="7.04" fill="#c8ecbe"/>
<rect x="237.15" y="437.76" width="7.00" height="7.04" fill="#fdfccd"/>
<rect x="244.10" y="437.76" width="7.00" height="7.04" fill="#e4d9ef"/>
<rect x="251.05" y="437.76" width="13.95" height="7.04" fill="#fcdcc0"/>
<rect x="264.95" y="437.76" width="7.00" height="7.04" fill="#e4d9ef"/>
<rect x="271.90" y="437.76" width="7.00" height="7.04" fill="#fdfccd"/>
<rect x="278.85" y="437.76" width="20.90" height="7.04" fill="#c8ecbe"/>
<text class="b" x="25.18 32.12 39.08 46.02 52.98 59.93 66.88 73.82 80.77 87.72 94.67 101.62 108.58 115.53 122.47 129.43 136.38 143.32 150.28 157.22 164.17 171.12 178.07 185.02 191.97 198.92 205.88 212.82 219.77 226.72 233.67 240.62 247.57 254.52 261.48 268.43 275.38 282.33 289.28 296.23" y="443.25">CTGATCCTGCAGGGCCGGCCTTTGGGCCCAAGTCCTGAAA</text>
<rect x="160.60" y="437.66" width="6.75" height="7.19" fill="none" stroke="#d2173f" stroke-width="1.2"/>
<rect x="21.70" y="444.75" width="7.00" height="7.04" fill="#fcdcc0"/>
<rect x="28.65" y="444.75" width="7.00" height="7.04" fill="#e4d9ef"/>
<rect x="35.60" y="444.75" width="7.00" height="7.04" fill="#fdfccd"/>
<rect x="42.55" y="444.75" width="7.00" height="7.04" fill="#c8ecbe"/>
<rect x="49.50" y="444.75" width="7.00" height="7.04" fill="#e4d9ef"/>
<rect x="56.45" y="444.75" width="13.95" height="7.04" fill="#fcdcc0"/>
<rect x="70.35" y="444.75" width="7.00" height="7.04" fill="#e4d9ef"/>
<rect x="77.30" y="444.75" width="7.00" height="7.04" fill="#fdfccd"/>
<rect x="84.25" y="444.75" width="7.00" height="7.04" fill="#fcdcc0"/>
<rect x="91.20" y="444.75" width="7.00" height="7.04" fill="#c8ecbe"/>
<rect x="98.15" y="444.75" width="20.90" height="7.04" fill="#fdfccd"/>
<rect x="119.00" y="444.75" width="13.95" height="7.04" fill="#fcdcc0"/>
<rect x="132.90" y="444.75" width="13.95" height="7.04" fill="#fdfccd"/>
<rect x="146.80" y="444.75" width="13.95" height="7.04" fill="#fcdcc0"/>
<rect x="160.70" y="444.75" width="41.75" height="7.04" fill="#e6e6e6"/>
<rect x="202.40" y="444.75" width="13.95" height="7.04" fill="#fcdcc0"/>
<rect x="216.30" y="444.75" width="13.95" height="7.04" fill="#c8ecbe"/>
<rect x="230.20" y="444.75" width="7.00" height="7.04" fill="#fdfccd"/>
<rect x="237.15" y="444.75" width="7.00" height="7.04" fill="#e4d9ef"/>
<rect x="244.10" y="444.75" width="13.95" height="7.04" fill="#fcdcc0"/>
<rect x="258.00" y="444.75" width="7.00" height="7.04" fill="#e4d9ef"/>
<rect x="264.95" y="444.75" width="7.00" height="7.04" fill="#fdfccd"/>
<rect x="271.90" y="444.75" width="20.90" height="7.04" fill="#c8ecbe"/>
<rect x="292.75" y="444.75" width="7.00" height="7.04" fill="#fdfccd"/>
<text class="b" x="25.18 32.12 39.08 46.02 52.98 59.93 66.88 73.82 80.77 87.72 94.67 101.62 108.58 115.53 122.47 129.43 136.38 143.32 150.28 157.22 164.17 171.12 178.07 185.02 191.97 198.92 205.88 212.82 219.77 226.72 233.67 240.62 247.57 254.52 261.48 268.43 275.38 282.33 289.28 296.23" y="450.25">CTGATCCTGCAGGGCCGGCC------CCAAGTCCTGAAAG</text>
<rect x="21.70" y="451.74" width="7.00" height="7.04" fill="#fcdcc0"/>
<rect x="28.65" y="451.74" width="7.00" height="7.04" fill="#e4d9ef"/>
<rect x="35.60" y="451.74" width="7.00" height="7.04" fill="#fdfccd"/>
<rect x="42.55" y="451.74" width="7.00" height="7.04" fill="#c8ecbe"/>
<rect x="49.50" y="451.74" width="7.00" height="7.04" fill="#e4d9ef"/>
<rect x="56.45" y="451.74" width="13.95" height="7.04" fill="#fcdcc0"/>
<rect x="70.35" y="451.74" width="7.00" height="7.04" fill="#e4d9ef"/>
<rect x="77.30" y="451.74" width="7.00" height="7.04" fill="#fdfccd"/>
<rect x="84.25" y="451.74" width="7.00" height="7.04" fill="#fcdcc0"/>
<rect x="91.20" y="451.74" width="7.00" height="7.04" fill="#c8ecbe"/>
<rect x="98.15" y="451.74" width="20.90" height="7.04" fill="#fdfccd"/>
<rect x="119.00" y="451.74" width="13.95" height="7.04" fill="#fcdcc0"/>
<rect x="132.90" y="451.74" width="13.95" height="7.04" fill="#fdfccd"/>
<rect x="146.80" y="451.74" width="13.95" height="7.04" fill="#fcdcc0"/>
<rect x="160.70" y="451.74" width="62.60" height="7.04" fill="#e6e6e6"/>
<rect x="223.25" y="451.74" width="7.00" height="7.04" fill="#c8ecbe"/>
<rect x="230.20" y="451.74" width="7.00" height="7.04" fill="#fdfccd"/>
<rect x="237.15" y="451.74" width="7.00" height="7.04" fill="#e4d9ef"/>
<rect x="244.10" y="451.74" width="13.95" height="7.04" fill="#fcdcc0"/>
<rect x="258.00" y="451.74" width="7.00" height="7.04" fill="#e4d9ef"/>
<rect x="264.95" y="451.74" width="7.00" height="7.04" fill="#fdfccd"/>
<rect x="271.90" y="451.74" width="20.90" height="7.04" fill="#c8ecbe"/>
<rect x="292.75" y="451.74" width="7.00" height="7.04" fill="#fdfccd"/>
<text class="b" x="25.18 32.12 39.08 46.02 52.98 59.93 66.88 73.82 80.77 87.72 94.67 101.62 108.58 115.53 122.47 129.43 136.38 143.32 150.28 157.22 164.17 171.12 178.07 185.02 191.97 198.92 205.88 212.82 219.77 226.72 233.67 240.62 247.57 254.52 261.48 268.43 275.38 282.33 289.28 296.23" y="457.24">CTGATCCTGCAGGGCCGGCC---------AGTCCTGAAAG</text>
<rect x="21.70" y="458.73" width="7.00" height="7.04" fill="#fcdcc0"/>
<rect x="28.65" y="458.73" width="7.00" height="7.04" fill="#e4d9ef"/>
<rect x="35.60" y="458.73" width="7.00" height="7.04" fill="#fdfccd"/>
<rect x="42.55" y="458.73" width="7.00" height="7.04" fill="#c8ecbe"/>
<rect x="49.50" y="458.73" width="7.00" height="7.04" fill="#e4d9ef"/>
<rect x="56.45" y="458.73" width="13.95" height="7.04" fill="#fcdcc0"/>
<rect x="70.35" y="458.73" width="7.00" height="7.04" fill="#e4d9ef"/>
<rect x="77.30" y="458.73" width="7.00" height="7.04" fill="#fdfccd"/>
<rect x="84.25" y="458.73" width="7.00" height="7.04" fill="#fcdcc0"/>
<rect x="91.20" y="458.73" width="7.00" height="7.04" fill="#c8ecbe"/>
<rect x="98.15" y="458.73" width="20.90" height="7.04" fill="#fdfccd"/>
<rect x="119.00" y="458.73" width="13.95" height="7.04" fill="#fcdcc0"/>
<rect x="132.90" y="458.73" width="13.95" height="7.04" fill="#fdfccd"/>
<rect x="146.80" y="458.73" width="13.95" height="7.04" fill="#fcdcc0"/>
<rect x="160.70" y="458.73" width="20.90" height="7.04" fill="#fdfccd"/>
<rect x="181.55" y="458.73" width="7.00" height="7.04" fill="#c8ecbe"/>
<rect x="188.50" y="458.73" width="13.95" height="7.04" fill="#fdfccd"/>
<rect x="202.40" y="458.73" width="7.00" height="7.04" fill="#fcdcc0"/>
<rect x="209.35" y="458.73" width="13.95" height="7.04" fill="#e4d9ef"/>
<rect x="223.25" y="458.73" width="20.90" height="7.04" fill="#fdfccd"/>
<rect x="244.10" y="458.73" width="20.90" height="7.04" fill="#fcdcc0"/>
<rect x="264.95" y="458.73" width="13.95" height="7.04" fill="#c8ecbe"/>
<rect x="278.85" y="458.73" width="7.00" height="7.04" fill="#fdfccd"/>
<rect x="285.80" y="458.73" width="7.00" height="7.04" fill="#e4d9ef"/>
<rect x="292.75" y="458.73" width="7.00" height="7.04" fill="#fcdcc0"/>
<text class="b" x="25.18 32.12 39.08 46.02 52.98 59.93 66.88 73.82 80.77 87.72 94.67 101.62 108.58 115.53 122.47 129.43 136.38 143.32 150.28 157.22 164.17 171.12 178.07 185.02 191.97 198.92 205.88 212.82 219.77 226.72 233.67 240.62 247.57 254.52 261.48 268.43 275.38 282.33 289.28 296.23" y="464.23">CTGATCCTGCAGGGCCGGCCGGGAGGCTTGGGCCCAAGTC</text>
<rect x="160.60" y="458.63" width="48.45" height="7.19" fill="none" stroke="#d2173f" stroke-width="1.2"/>
<rect x="21.70" y="465.72" width="7.00" height="7.04" fill="#fcdcc0"/>
<rect x="28.65" y="465.72" width="7.00" height="7.04" fill="#e4d9ef"/>
<rect x="35.60" y="465.72" width="7.00" height="7.04" fill="#fdfccd"/>
<rect x="42.55" y="465.72" width="7.00" height="7.04" fill="#c8ecbe"/>
<rect x="49.50" y="465.72" width="7.00" height="7.04" fill="#e4d9ef"/>
<rect x="56.45" y="465.72" width="13.95" height="7.04" fill="#fcdcc0"/>
<rect x="70.35" y="465.72" width="7.00" height="7.04" fill="#e4d9ef"/>
<rect x="77.30" y="465.72" width="7.00" height="7.04" fill="#fdfccd"/>
<rect x="84.25" y="465.72" width="7.00" height="7.04" fill="#fcdcc0"/>
<rect x="91.20" y="465.72" width="7.00" height="7.04" fill="#c8ecbe"/>
<rect x="98.15" y="465.72" width="20.90" height="7.04" fill="#fdfccd"/>
<rect x="119.00" y="465.72" width="13.95" height="7.04" fill="#fcdcc0"/>
<rect x="132.90" y="465.72" width="7.00" height="7.04" fill="#fdfccd"/>
<rect x="139.85" y="465.72" width="7.00" height="7.04" fill="#e6e6e6"/>
<rect x="146.80" y="465.72" width="13.95" height="7.04" fill="#fcdcc0"/>
<rect x="160.70" y="465.72" width="13.95" height="7.04" fill="#e4d9ef"/>
<rect x="174.60" y="465.72" width="20.90" height="7.04" fill="#fdfccd"/>
<rect x="195.45" y="465.72" width="20.90" height="7.04" fill="#fcdcc0"/>
<rect x="216.30" y="465.72" width="13.95" height="7.04" fill="#c8ecbe"/>
<rect x="230.20" y="465.72" width="7.00" height="7.04" fill="#fdfccd"/>
<rect x="237.15" y="465.72" width="7.00" height="7.04" fill="#e4d9ef"/>
<rect x="244.10" y="465.72" width="13.95" height="7.04" fill="#fcdcc0"/>
<rect x="258.00" y="465.72" width="7.00" height="7.04" fill="#e4d9ef"/>
<rect x="264.95" y="465.72" width="7.00" height="7.04" fill="#fdfccd"/>
<rect x="271.90" y="465.72" width="20.90" height="7.04" fill="#c8ecbe"/>
<rect x="292.75" y="465.72" width="7.00" height="7.04" fill="#fdfccd"/>
<text class="b" x="25.18 32.12 39.08 46.02 52.98 59.93 66.88 73.82 80.77 87.72 94.67 101.62 108.58 115.53 122.47 129.43 136.38 143.32 150.28 157.22 164.17 171.12 178.07 185.02 191.97 198.92 205.88 212.82 219.77 226.72 233.67 240.62 247.57 254.52 261.48 268.43 275.38 282.33 289.28 296.23" y="471.22">CTGATCCTGCAGGGCCG-CCTTGGGCCCAAGTCCTGAAAG</text>
<rect x="21.70" y="472.71" width="7.00" height="7.04" fill="#fcdcc0"/>
<rect x="28.65" y="472.71" width="7.00" height="7.04" fill="#e4d9ef"/>
<rect x="35.60" y="472.71" width="7.00" height="7.04" fill="#fdfccd"/>
<rect x="42.55" y="472.71" width="7.00" height="7.04" fill="#c8ecbe"/>
<rect x="49.50" y="472.71" width="7.00" height="7.04" fill="#e4d9ef"/>
<rect x="56.45" y="472.71" width="13.95" height="7.04" fill="#fcdcc0"/>
<rect x="70.35" y="472.71" width="7.00" height="7.04" fill="#e4d9ef"/>
<rect x="77.30" y="472.71" width="7.00" height="7.04" fill="#fdfccd"/>
<rect x="84.25" y="472.71" width="7.00" height="7.04" fill="#fcdcc0"/>
<rect x="91.20" y="472.71" width="7.00" height="7.04" fill="#c8ecbe"/>
<rect x="98.15" y="472.71" width="20.90" height="7.04" fill="#fdfccd"/>
<rect x="119.00" y="472.71" width="13.95" height="7.04" fill="#fcdcc0"/>
<rect x="132.90" y="472.71" width="13.95" height="7.04" fill="#fdfccd"/>
<rect x="146.80" y="472.71" width="13.95" height="7.04" fill="#fcdcc0"/>
<rect x="160.70" y="472.71" width="55.65" height="7.04" fill="#e6e6e6"/>
<rect x="216.30" y="472.71" width="13.95" height="7.04" fill="#c8ecbe"/>
<rect x="230.20" y="472.71" width="7.00" height="7.04" fill="#fdfccd"/>
<rect x="237.15" y="472.71" width="7.00" height="7.04" fill="#e4d9ef"/>
<rect x="244.10" y="472.71" width="13.95" height="7.04" fill="#fcdcc0"/>
<rect x="258.00" y="472.71" width="7.00" height="7.04" fill="#e4d9ef"/>
<rect x="264.95" y="472.71" width="7.00" height="7.04" fill="#fdfccd"/>
<rect x="271.90" y="472.71" width="20.90" height="7.04" fill="#c8ecbe"/>
<rect x="292.75" y="472.71" width="7.00" height="7.04" fill="#fdfccd"/>
<text class="b" x="25.18 32.12 39.08 46.02 52.98 59.93 66.88 73.82 80.77 87.72 94.67 101.62 108.58 115.53 122.47 129.43 136.38 143.32 150.28 157.22 164.17 171.12 178.07 185.02 191.97 198.92 205.88 212.82 219.77 226.72 233.67 240.62 247.57 254.52 261.48 268.43 275.38 282.33 289.28 296.23" y="478.21">CTGATCCTGCAGGGCCGGCC--------AAGTCCTGAAAG</text>
<rect x="21.70" y="479.70" width="7.00" height="7.04" fill="#fcdcc0"/>
<rect x="28.65" y="479.70" width="7.00" height="7.04" fill="#e4d9ef"/>
<rect x="35.60" y="479.70" width="7.00" height="7.04" fill="#fdfccd"/>
<rect x="42.55" y="479.70" width="7.00" height="7.04" fill="#c8ecbe"/>
<rect x="49.50" y="479.70" width="7.00" height="7.04" fill="#e4d9ef"/>
<rect x="56.45" y="479.70" width="13.95" height="7.04" fill="#fcdcc0"/>
<rect x="70.35" y="479.70" width="7.00" height="7.04" fill="#e4d9ef"/>
<rect x="77.30" y="479.70" width="7.00" height="7.04" fill="#fdfccd"/>
<rect x="84.25" y="479.70" width="7.00" height="7.04" fill="#fcdcc0"/>
<rect x="91.20" y="479.70" width="7.00" height="7.04" fill="#c8ecbe"/>
<rect x="98.15" y="479.70" width="20.90" height="7.04" fill="#fdfccd"/>
<rect x="119.00" y="479.70" width="13.95" height="7.04" fill="#fcdcc0"/>
<rect x="132.90" y="479.70" width="13.95" height="7.04" fill="#fdfccd"/>
<rect x="146.80" y="479.70" width="13.95" height="7.04" fill="#fcdcc0"/>
<rect x="160.70" y="479.70" width="13.95" height="7.04" fill="#e4d9ef"/>
<rect x="174.60" y="479.70" width="13.95" height="7.04" fill="#fdfccd"/>
<rect x="188.50" y="479.70" width="7.00" height="7.04" fill="#e6e6e6"/>
<rect x="195.45" y="479.70" width="20.90" height="7.04" fill="#fcdcc0"/>
<rect x="216.30" y="479.70" width="13.95" height="7.04" fill="#c8ecbe"/>
<rect x="230.20" y="479.70" width="7.00" height="7.04" fill="#fdfccd"/>
<rect x="237.15" y="479.70" width="7.00" height="7.04" fill="#e4d9ef"/>
<rect x="244.10" y="479.70" width="13.95" height="7.04" fill="#fcdcc0"/>
<rect x="258.00" y="479.70" width="7.00" height="7.04" fill="#e4d9ef"/>
<rect x="264.95" y="479.70" width="7.00" height="7.04" fill="#fdfccd"/>
<rect x="271.90" y="479.70" width="20.90" height="7.04" fill="#c8ecbe"/>
<rect x="292.75" y="479.70" width="7.00" height="7.04" fill="#fdfccd"/>
<text class="b" x="25.18 32.12 39.08 46.02 52.98 59.93 66.88 73.82 80.77 87.72 94.67 101.62 108.58 115.53 122.47 129.43 136.38 143.32 150.28 157.22 164.17 171.12 178.07 185.02 191.97 198.92 205.88 212.82 219.77 226.72 233.67 240.62 247.57 254.52 261.48 268.43 275.38 282.33 289.28 296.23" y="485.20">CTGATCCTGCAGGGCCGGCCTTGG-CCCAAGTCCTGAAAG</text>
<rect x="21.70" y="486.69" width="7.00" height="7.04" fill="#fcdcc0"/>
<rect x="28.65" y="486.69" width="7.00" height="7.04" fill="#e4d9ef"/>
<rect x="35.60" y="486.69" width="7.00" height="7.04" fill="#fdfccd"/>
<rect x="42.55" y="486.69" width="7.00" height="7.04" fill="#c8ecbe"/>
<rect x="49.50" y="486.69" width="7.00" height="7.04" fill="#e4d9ef"/>
<rect x="56.45" y="486.69" width="13.95" height="7.04" fill="#fcdcc0"/>
<rect x="70.35" y="486.69" width="7.00" height="7.04" fill="#e4d9ef"/>
<rect x="77.30" y="486.69" width="7.00" height="7.04" fill="#fdfccd"/>
<rect x="84.25" y="486.69" width="7.00" height="7.04" fill="#fcdcc0"/>
<rect x="91.20" y="486.69" width="7.00" height="7.04" fill="#c8ecbe"/>
<rect x="98.15" y="486.69" width="20.90" height="7.04" fill="#fdfccd"/>
<rect x="119.00" y="486.69" width="13.95" height="7.04" fill="#fcdcc0"/>
<rect x="132.90" y="486.69" width="13.95" height="7.04" fill="#fdfccd"/>
<rect x="146.80" y="486.69" width="13.95" height="7.04" fill="#fcdcc0"/>
<rect x="160.70" y="486.69" width="41.75" height="7.04" fill="#e6e6e6"/>
<rect x="202.40" y="486.69" width="7.00" height="7.04" fill="#c8ecbe"/>
<rect x="209.35" y="486.69" width="7.00" height="7.04" fill="#fcdcc0"/>
<rect x="216.30" y="486.69" width="13.95" height="7.04" fill="#c8ecbe"/>
<rect x="230.20" y="486.69" width="7.00" height="7.04" fill="#fdfccd"/>
<rect x="237.15" y="486.69" width="7.00" height="7.04" fill="#e4d9ef"/>
<rect x="244.10" y="486.69" width="13.95" height="7.04" fill="#fcdcc0"/>
<rect x="258.00" y="486.69" width="7.00" height="7.04" fill="#e4d9ef"/>
<rect x="264.95" y="486.69" width="7.00" height="7.04" fill="#fdfccd"/>
<rect x="271.90" y="486.69" width="20.90" height="7.04" fill="#c8ecbe"/>
<rect x="292.75" y="486.69" width="7.00" height="7.04" fill="#fdfccd"/>
<text class="b" x="25.18 32.12 39.08 46.02 52.98 59.93 66.88 73.82 80.77 87.72 94.67 101.62 108.58 115.53 122.47 129.43 136.38 143.32 150.28 157.22 164.17 171.12 178.07 185.02 191.97 198.92 212.82 219.77 226.72 233.67 240.62 247.57 254.52 261.48 268.43 275.38 282.33 289.28 296.23" y="492.19">CTGATCCTGCAGGGCCGGCC------CAAGTCCTGAAAG</text>
<text class="bb" x="205.88" y="492.38">A</text>
<rect x="21.70" y="493.68" width="7.00" height="7.04" fill="#fcdcc0"/>
<rect x="28.65" y="493.68" width="7.00" height="7.04" fill="#e4d9ef"/>
<rect x="35.60" y="493.68" width="7.00" height="7.04" fill="#fdfccd"/>
<rect x="42.55" y="493.68" width="7.00" height="7.04" fill="#c8ecbe"/>
<rect x="49.50" y="493.68" width="7.00" height="7.04" fill="#e4d9ef"/>
<rect x="56.45" y="493.68" width="13.95" height="7.04" fill="#fcdcc0"/>
<rect x="70.35" y="493.68" width="7.00" height="7.04" fill="#e4d9ef"/>
<rect x="77.30" y="493.68" width="7.00" height="7.04" fill="#fdfccd"/>
<rect x="84.25" y="493.68" width="7.00" height="7.04" fill="#fcdcc0"/>
<rect x="91.20" y="493.68" width="7.00" height="7.04" fill="#c8ecbe"/>
<rect x="98.15" y="493.68" width="20.90" height="7.04" fill="#fdfccd"/>
<rect x="119.00" y="493.68" width="13.95" height="7.04" fill="#fcdcc0"/>
<rect x="132.90" y="493.68" width="13.95" height="7.04" fill="#fdfccd"/>
<rect x="146.80" y="493.68" width="7.00" height="7.04" fill="#fcdcc0"/>
<rect x="153.75" y="493.68" width="7.00" height="7.04" fill="#e6e6e6"/>
<rect x="160.70" y="493.68" width="13.95" height="7.04" fill="#e4d9ef"/>
<rect x="174.60" y="493.68" width="20.90" height="7.04" fill="#fdfccd"/>
<rect x="195.45" y="493.68" width="20.90" height="7.04" fill="#fcdcc0"/>
<rect x="216.30" y="493.68" width="13.95" height="7.04" fill="#c8ecbe"/>
<rect x="230.20" y="493.68" width="7.00" height="7.04" fill="#fdfccd"/>
<rect x="237.15" y="493.68" width="7.00" height="7.04" fill="#e4d9ef"/>
<rect x="244.10" y="493.68" width="13.95" height="7.04" fill="#fcdcc0"/>
<rect x="258.00" y="493.68" width="7.00" height="7.04" fill="#e4d9ef"/>
<rect x="264.95" y="493.68" width="7.00" height="7.04" fill="#fdfccd"/>
<rect x="271.90" y="493.68" width="20.90" height="7.04" fill="#c8ecbe"/>
<rect x="292.75" y="493.68" width="7.00" height="7.04" fill="#fdfccd"/>
<text class="b" x="25.18 32.12 39.08 46.02 52.98 59.93 66.88 73.82 80.77 87.72 94.67 101.62 108.58 115.53 122.47 129.43 136.38 143.32 150.28 157.22 164.17 171.12 178.07 185.02 191.97 198.92 205.88 212.82 219.77 226.72 233.67 240.62 247.57 254.52 261.48 268.43 275.38 282.33 289.28 296.23" y="499.18">CTGATCCTGCAGGGCCGGC-TTGGGCCCAAGTCCTGAAAG</text>
<rect x="21.70" y="500.67" width="7.00" height="7.04" fill="#fcdcc0"/>
<rect x="28.65" y="500.67" width="7.00" height="7.04" fill="#e4d9ef"/>
<rect x="35.60" y="500.67" width="7.00" height="7.04" fill="#fdfccd"/>
<rect x="42.55" y="500.67" width="7.00" height="7.04" fill="#c8ecbe"/>
<rect x="49.50" y="500.67" width="7.00" height="7.04" fill="#e4d9ef"/>
<rect x="56.45" y="500.67" width="13.95" height="7.04" fill="#fcdcc0"/>
<rect x="70.35" y="500.67" width="7.00" height="7.04" fill="#e4d9ef"/>
<rect x="77.30" y="500.67" width="7.00" height="7.04" fill="#fdfccd"/>
<rect x="84.25" y="500.67" width="7.00" height="7.04" fill="#fcdcc0"/>
<rect x="91.20" y="500.67" width="7.00" height="7.04" fill="#c8ecbe"/>
<rect x="98.15" y="500.67" width="20.90" height="7.04" fill="#fdfccd"/>
<rect x="119.00" y="500.67" width="13.95" height="7.04" fill="#fcdcc0"/>
<rect x="132.90" y="500.67" width="13.95" height="7.04" fill="#fdfccd"/>
<rect x="146.80" y="500.67" width="13.95" height="7.04" fill="#fcdcc0"/>
<rect x="160.70" y="500.67" width="7.00" height="7.04" fill="#e4d9ef"/>
<rect x="167.65" y="500.67" width="7.00" height="7.04" fill="#c8ecbe"/>
<rect x="174.60" y="500.67" width="20.90" height="7.04" fill="#fdfccd"/>
<rect x="195.45" y="500.67" width="20.90" height="7.04" fill="#fcdcc0"/>
<rect x="216.30" y="500.67" width="13.95" height="7.04" fill="#c8ecbe"/>
<rect x="230.20" y="500.67" width="7.00" height="7.04" fill="#fdfccd"/>
<rect x="237.15" y="500.67" width="7.00" height="7.04" fill="#e4d9ef"/>
<rect x="244.10" y="500.67" width="13.95" height="7.04" fill="#fcdcc0"/>
<rect x="258.00" y="500.67" width="7.00" height="7.04" fill="#e4d9ef"/>
<rect x="264.95" y="500.67" width="7.00" height="7.04" fill="#fdfccd"/>
<rect x="271.90" y="500.67" width="20.90" height="7.04" fill="#c8ecbe"/>
<rect x="292.75" y="500.67" width="7.00" height="7.04" fill="#fdfccd"/>
<text class="b" x="25.18 32.12 39.08 46.02 52.98 59.93 66.88 73.82 80.77 87.72 94.67 101.62 108.58 115.53 122.47 129.43 136.38 143.32 150.28 157.22 164.17 178.07 185.02 191.97 198.92 205.88 212.82 219.77 226.72 233.67 240.62 247.57 254.52 261.48 268.43 275.38 282.33 289.28 296.23" y="506.17">CTGATCCTGCAGGGCCGGCCTGGGCCCAAGTCCTGAAAG</text>
<text class="bb" x="171.12" y="506.37">A</text>
<rect x="300.00" y="412.70" width="1.30" height="0.90" fill="#444"/>
<text x="302.80" y="415.30" font-size="7.25" fill="#231f20" stroke="#231f20" stroke-width="0.159" textLength="73.58" lengthAdjust="spacingAndGlyphs">59.96% <tspan font-size="6.16">(</tspan>45607 reads<tspan font-size="6.16">)</tspan></text>
<rect x="300.00" y="419.69" width="1.30" height="0.90" fill="#444"/>
<text x="302.72" y="422.29" font-size="7.25" fill="#231f20" stroke="#231f20" stroke-width="0.159" textLength="73.58" lengthAdjust="spacingAndGlyphs">23.32% <tspan font-size="6.16">(</tspan>17736 reads<tspan font-size="6.16">)</tspan></text>
<rect x="300.00" y="426.68" width="1.30" height="0.90" fill="#444"/>
<text x="302.80" y="429.28" font-size="7.25" fill="#231f20" stroke="#231f20" stroke-width="0.159" textLength="65.30" lengthAdjust="spacingAndGlyphs">3.52% <tspan font-size="6.16">(</tspan>2678 reads<tspan font-size="6.16">)</tspan></text>
<rect x="300.00" y="433.67" width="1.30" height="0.90" fill="#444"/>
<text x="302.80" y="436.27" font-size="7.25" fill="#231f20" stroke="#231f20" stroke-width="0.159" textLength="65.30" lengthAdjust="spacingAndGlyphs">3.50% <tspan font-size="6.16">(</tspan>2659 reads<tspan font-size="6.16">)</tspan></text>
<rect x="300.00" y="440.66" width="1.30" height="0.90" fill="#444"/>
<text x="302.54" y="443.26" font-size="7.25" fill="#231f20" stroke="#231f20" stroke-width="0.159" textLength="64.75" lengthAdjust="spacingAndGlyphs">1.46% <tspan font-size="6.16">(</tspan>1108 reads<tspan font-size="6.16">)</tspan></text>
<rect x="300.00" y="447.65" width="1.30" height="0.90" fill="#444"/>
<text x="302.54" y="450.25" font-size="7.25" fill="#231f20" stroke="#231f20" stroke-width="0.159" textLength="61.17" lengthAdjust="spacingAndGlyphs">1.14% <tspan font-size="6.16">(</tspan>866 reads<tspan font-size="6.16">)</tspan></text>
<rect x="300.00" y="454.64" width="1.30" height="0.90" fill="#444"/>
<text x="302.80" y="457.24" font-size="7.25" fill="#231f20" stroke="#231f20" stroke-width="0.159" textLength="61.17" lengthAdjust="spacingAndGlyphs">0.57% <tspan font-size="6.16">(</tspan>437 reads<tspan font-size="6.16">)</tspan></text>
<rect x="300.00" y="461.63" width="1.30" height="0.90" fill="#444"/>
<text x="302.80" y="464.23" font-size="7.25" fill="#231f20" stroke="#231f20" stroke-width="0.159" textLength="61.17" lengthAdjust="spacingAndGlyphs">0.55% <tspan font-size="6.16">(</tspan>416 reads<tspan font-size="6.16">)</tspan></text>
<rect x="300.00" y="468.62" width="1.30" height="0.90" fill="#444"/>
<text x="302.80" y="471.22" font-size="7.25" fill="#231f20" stroke="#231f20" stroke-width="0.159" textLength="61.17" lengthAdjust="spacingAndGlyphs">0.54% <tspan font-size="6.16">(</tspan>413 reads<tspan font-size="6.16">)</tspan></text>
<rect x="300.00" y="475.61" width="1.30" height="0.90" fill="#444"/>
<text x="302.80" y="478.21" font-size="7.25" fill="#231f20" stroke="#231f20" stroke-width="0.159" textLength="61.17" lengthAdjust="spacingAndGlyphs">0.49% <tspan font-size="6.16">(</tspan>370 reads<tspan font-size="6.16">)</tspan></text>
<rect x="300.00" y="482.60" width="1.30" height="0.90" fill="#444"/>
<text x="302.80" y="485.20" font-size="7.25" fill="#231f20" stroke="#231f20" stroke-width="0.159" textLength="61.17" lengthAdjust="spacingAndGlyphs">0.45% <tspan font-size="6.16">(</tspan>345 reads<tspan font-size="6.16">)</tspan></text>
<rect x="300.00" y="489.59" width="1.30" height="0.90" fill="#444"/>
<text x="302.80" y="492.19" font-size="7.25" fill="#231f20" stroke="#231f20" stroke-width="0.159" textLength="61.17" lengthAdjust="spacingAndGlyphs">0.39% <tspan font-size="6.16">(</tspan>293 reads<tspan font-size="6.16">)</tspan></text>
<rect x="300.00" y="496.58" width="1.30" height="0.90" fill="#444"/>
<text x="302.80" y="499.18" font-size="7.25" fill="#231f20" stroke="#231f20" stroke-width="0.159" textLength="61.17" lengthAdjust="spacingAndGlyphs">0.25% <tspan font-size="6.16">(</tspan>193 reads<tspan font-size="6.16">)</tspan></text>
<rect x="300.00" y="503.57" width="1.30" height="0.90" fill="#444"/>
<text x="302.80" y="506.17" font-size="7.25" fill="#231f20" stroke="#231f20" stroke-width="0.159" textLength="61.17" lengthAdjust="spacingAndGlyphs">0.20% <tspan font-size="6.16">(</tspan>153 reads<tspan font-size="6.16">)</tspan></text>
<line x1="160.70" y1="409.8" x2="160.70" y2="507.66" stroke="#333" stroke-width="0.8" stroke-dasharray="1,1"/>
<text x="389.52" y="447.50" font-size="8.26" fill="#231f20" stroke="#231f20" stroke-width="0.182" textLength="73.70" lengthAdjust="spacingAndGlyphs">% Frameshift alleles:</text>
<text x="389.49" y="457.20" font-size="7.83" fill="#231f20" stroke="#231f20" stroke-width="0.172" textLength="26.25" lengthAdjust="spacingAndGlyphs">38.43%</text>
<text x="393.71" y="470.70" font-size="5.56" fill="#111" stroke="#111" stroke-width="0.122" textLength="13.50" lengthAdjust="spacingAndGlyphs"><tspan font-weight="bold">Bold</tspan></text>
<text x="410.56" y="471.20" font-size="7.83" fill="#231f20" stroke="#231f20" stroke-width="0.172" textLength="43.21" lengthAdjust="spacingAndGlyphs">Substitutions</text>
<rect x="397.7" y="477.0" width="5.4" height="5.1" fill="none" stroke="#d2173f" stroke-width="1"/>
<text x="410.22" y="482.20" font-size="7.39" fill="#231f20" stroke="#231f20" stroke-width="0.163" textLength="32.54" lengthAdjust="spacingAndGlyphs">Insertions</text>
<rect x="399.40" y="490.00" width="1.40" height="1.00" fill="#555"/>
<text x="410.29" y="493.00" font-size="7.83" fill="#231f20" stroke="#231f20" stroke-width="0.172" textLength="31.77" lengthAdjust="spacingAndGlyphs">Deletions</text>
<line x1="392.0" y1="501.3" x2="407.9" y2="501.3" stroke="#333" stroke-width="1.0" stroke-dasharray="1.4,1.05"/>
<text x="410.29" y="503.70" font-size="7.83" fill="#231f20" stroke="#231f20" stroke-width="0.172" textLength="93.21" lengthAdjust="spacingAndGlyphs">Predicted cleavage position</text>
</svg></div></body></html>
